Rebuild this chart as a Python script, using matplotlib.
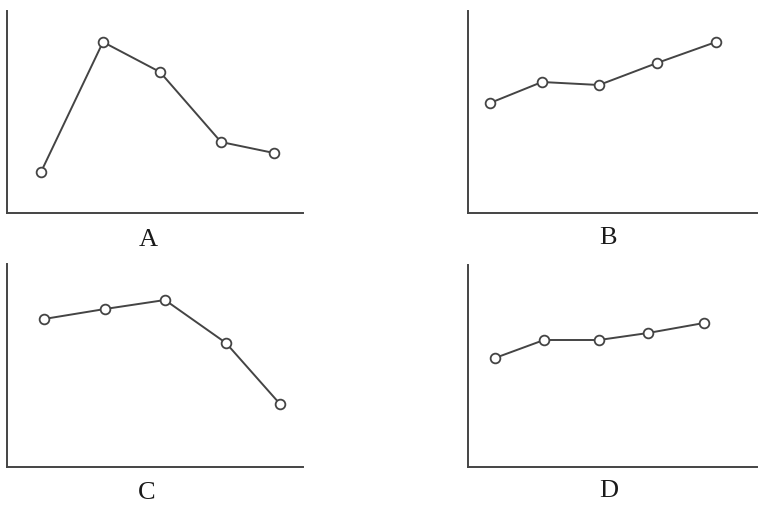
import matplotlib.pyplot as plt

# panel labels
labels = ['A', 'B', 'C', 'D']

# x positions of the five points in each panel (arbitrary units)
xs_a = [34, 96, 153, 214, 267]
xs_b = [22, 74, 131, 189, 248]
xs_c = [37, 98, 158, 219, 273]
xs_d = [27, 76, 131, 180, 236]

# y values (arbitrary units, 0 = bottom axis)
ys_a = [41, 171, 141, 71, 60]
ys_b = [110, 131, 128, 150, 171]
ys_c = [148, 158, 167, 124, 63]
ys_d = [109, 127, 127, 134, 144]

W, H = 759, 506
fig = plt.figure(figsize=(W / 100, H / 100), dpi=100)

# axes rectangles in pixels: left, top, right, bottom
boxes = [(7, 12, 303, 214), (468, 12, 757, 214),
         (7, 265, 303, 468), (468, 266, 757, 468)]
label_pos = [(148, 240), (608, 238), (147, 493), (609, 491)]
panels = [(xs_a, ys_a), (xs_b, ys_b), (xs_c, ys_c), (xs_d, ys_d)]

line_col = '#444444'
for (l, t, r, b), (xs, ys), lab, (lx, ly) in zip(boxes, panels, labels, label_pos):
    ax = fig.add_axes([l / W, 1 - b / H, (r - l) / W, (b - t) / H])
    ax.plot(xs, ys, '-o', color=line_col, lw=1.4, ms=7,
            mfc='white', mec=line_col, mew=1.3)
    ax.set_xlim(0, r - l)
    ax.set_ylim(0, b - t)
    ax.spines['top'].set_visible(False)
    ax.spines['right'].set_visible(False)
    for s in ('left', 'bottom'):
        ax.spines[s].set_color('#444444')
        ax.spines[s].set_linewidth(1.4)
    ax.set_xticks([])
    ax.set_yticks([])
    ax.patch.set_alpha(0)
    fig.text(lx / W, 1 - ly / H, lab, ha='center', va='center',
             fontsize=19, family='Liberation Serif', color='#1a1a1a')

fig.savefig('out.png', dpi=100)
